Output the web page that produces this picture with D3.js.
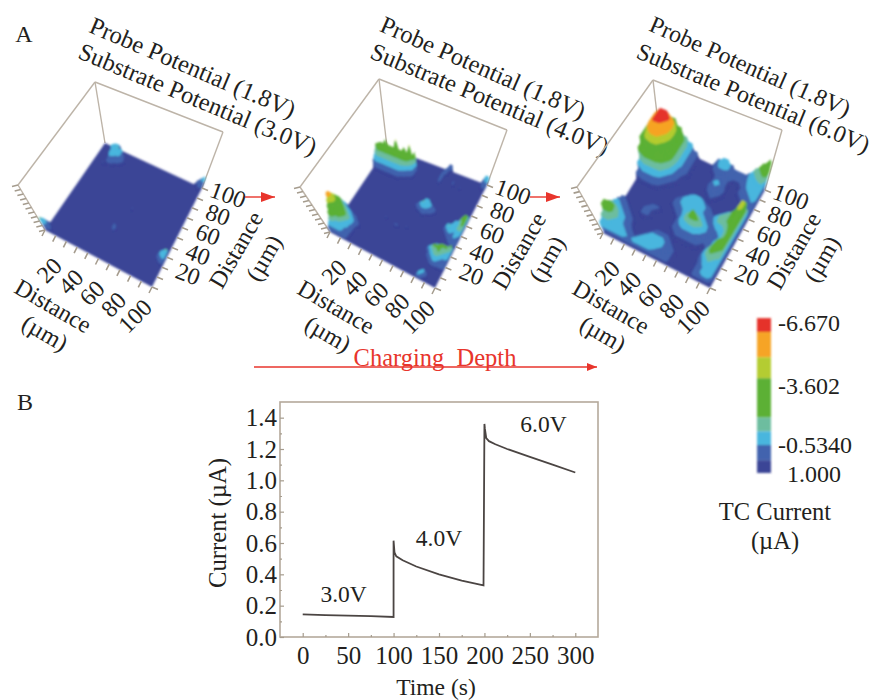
<!DOCTYPE html>
<html>
<head>
<meta charset="utf-8">
<script src="https://cdn.jsdelivr.net/npm/d3@7"></script>
<style>
  body { margin: 0; background: #fff; }
  text { font-family: "Liberation Serif", serif; fill: #231f20; }
</style>
</head>
<body>
<svg id="chart" width="875" height="700"></svg>
<script>
// Lower chart: current against time
const timeValues = [0, 25, 50, 75, 100, 100, 101, 103, 110, 125, 150, 175, 199, 200, 200.5, 202, 205, 212, 225, 250, 275, 300];
const currentValues = [0.145, 0.14, 0.136, 0.133, 0.128, 0.615, 0.54, 0.515, 0.49, 0.45, 0.4, 0.36, 0.33, 1.36, 1.33, 1.27, 1.25, 1.23, 1.2, 1.15, 1.1, 1.05];
const timeTicks = [0, 50, 100, 150, 200, 250, 300];
const timeMinorTicks = [25, 75, 125, 175, 225, 275];
const currentTicks = [0, 0.2, 0.4, 0.6, 0.8, 1.0, 1.2, 1.4];
const currentMinorTicks = [0.1, 0.3, 0.5, 0.7, 0.9, 1.1, 1.3];
const stepLabels = [["3.0V", 0], ["4.0V", 1], ["6.0V", 2]];

// Colour bar
const bandEdges = [-6.91, -6.23, -5.0, -3.98, -1.96, -1.24, -0.534, 0.3, 1.0];
const bandColors = ["#e5332a", "#f6a425", "#b4cc30", "#5bb035", "#6dbd9f", "#48b6de", "#4263ae", "#3a4496"];
const legendTicks = [-6.67, -3.602, -0.534, 1.0];
const legendLabels = ["-6.670", "-3.602", "-0.5340", "1.000"];

// Surface heights: each digit is an index into currentLevels (uA)
const currentLevels = [0.8, 0.1, -0.4, -0.9, -1.5, -2.5, -3.5, -4.5, -5.6, -6.6];

// patches are [row, column, digits], everything else stays at level 0
const surface30V = [
  [1, 6, "12"], [2, 4, "12331"], [3, 4, "133323"], [4, 4, "1233431"], [5, 5, "233331"], [6, 5, "13321"], [7, 5, "121"], [8, 4, "1"],
  [28, 20, "2"], [29, 20, "2"], [19, 22, "1"],
  [38, 0, "1"], [39, 0, "32"], [40, 0, "431"],
  [0, 38, "123"], [1, 39, "23"],
  [29, 39, "23"], [30, 38, "234"], [31, 38, "233"], [32, 39, "23"]
];

const surface40V = [
  [0, 25, "22"], [0, 39, "33"],
  [1, 24, "11"], [1, 39, "23"],
  [2, 24, "11"], [2, 39, "12"],
  [3, 0, "001111111111100"], [3, 24, "2"],
  [4, 0, "133333333333321"], [4, 24, "2"], [4, 29, "1"],
  [5, 0, "455655575565756"], [5, 24, "2"], [5, 29, "1"], [5, 32, "1"],
  [6, 0, "555555555555554"], [6, 24, "1"],
  [7, 0, "455555555555543"], [8, 0, "344444444444321"], [9, 0, "233333333332100"], [10, 0, "011111111110000"],
  [15, 23, "13310"], [15, 38, "123"],
  [16, 22, "1233321"], [16, 38, "134"],
  [17, 21, "12343321"], [17, 37, "1245"],
  [18, 22, "123321"], [18, 36, "13356"],
  [19, 24, "11"], [19, 35, "123345"],
  [20, 34, "1333345"], [21, 34, "1343344"], [22, 35, "133233"], [23, 36, "12232"],
  [24, 37, "1221"], [25, 38, "111"], [26, 14, "1"], [26, 22, "1"],
  [27, 35, "111223"], [27, 18, "11"],
  [28, 33, "12334445"],
  [29, 0, "32"], [29, 32, "123445554"],
  [30, 0, "5321"], [30, 32, "134555443"],
  [31, 0, "654321"], [31, 33, "13445433"],
  [32, 0, "7654321"], [32, 33, "12344322"],
  [33, 0, "87654321"], [33, 34, "1233211"],
  [34, 0, "87665431"], [34, 35, "122111"],
  [35, 0, "7665543"], [36, 0, "6555432"], [37, 0, "5544332"],
  [38, 0, "4433321"], [38, 34, "131"],
  [39, 0, "3333321"], [39, 33, "1331"],
  [40, 0, "2222211"], [40, 33, "131"]
];

const surface60V = [
  [0, 0, "566654310002332112456"],
  [1, 0, "677765310001332112345"],
  [2, 0, "689985310000111001333"],
  [3, 0, "689995310000121001233"],
  [4, 0, "689985310000232000123"],
  [5, 0, "678865200000121000012"],
  [6, 0, "566654100000010000012"],
  [7, 0, "344441000011100000124"],
  [8, 0, "122210000123321002346"],
  [9, 0, "000000001233332123457"],
  [10, 0, "000000001233332134457"],
  [11, 0, "000000000123333224456"],
  [12, 0, "000001100013454322346"],
  [13, 0, "100011000013455421245"],
  [14, 0, "210011000012333211345"],
  [15, 0, "321000000001111101355"],
  [16, 0, "432100001110000002455"],
  [17, 0, "553200012221000002454"],
  [18, 0, "554210123332100001343"],
  [19, 0, "443321233332100001233"],
  [20, 0, "333332333321100001233"]
];

// Layout of the three surface plots, in screen pixels
const panels = [
  {
    grid: surface30V, size: 40, lowest: -8, titleSize: 24.5,
    floor: { back: [105, 143], left: [45, 230], right: [202, 188], front: [152, 287] },
    top: { back: [95, 82], left: [18, 185], right: [223, 132] },
    titles: [["Probe Potential (1.8V)", 91, 24, 23], ["Substrate Potential (3.0V)", 80, 50, 22.5]],
    arrow: [245, 275]
  },
  {
    grid: surface40V, size: 40, lowest: -11.5, titleSize: 24.5,
    floor: { back: [387, 147], left: [330, 232], right: [487, 185], front: [435, 288] },
    top: { back: [379, 79], left: [300, 187], right: [507, 130] },
    titles: [["Probe Potential (1.8V)", 382, 23, 23.7], ["Substrate Potential (4.0V)", 372, 50, 22.5]],
    arrow: [530, 560]
  },
  {
    grid: surface60V, size: 20, lowest: -8, titleSize: 24,
    floor: { back: [660, 140], left: [603, 233], right: [765, 190], front: [710, 288] },
    top: { back: [653, 80], left: [577, 187], right: [782, 130] },
    titles: [["Probe Potential (1.8V)", 651, 23, 23.7], ["Substrate Potential (6.0V)", 638, 50, 22.6]]
  }
];

const distanceTicks = [20, 40, 60, 80, 100];
const distanceMinorTicks = [0, 10, 20, 30, 40, 50, 60, 70, 80, 90, 100];
const heightTicks = [0, 0.1, 0.2, 0.3, 0.4, 0.5, 0.6, 0.7, 0.8, 0.9, 1];

const svg = d3.select("#chart");

const defs = svg.append("defs");
defs.append("filter").attr("id", "soft")
  .attr("x", "-5%").attr("y", "-5%").attr("width", "110%").attr("height", "110%")
  .append("feGaussianBlur").attr("stdDeviation", 0.8);
defs.append("filter").attr("id", "softBar")
  .attr("x", "-30%").attr("y", "-5%").attr("width", "160%").attr("height", "110%")
  .append("feGaussianBlur").attr("stdDeviation", 0.8);
defs.append("marker").attr("id", "head").attr("viewBox", "0 0 10 8")
  .attr("refX", 10).attr("refY", 4).attr("markerWidth", 10).attr("markerHeight", 8)
  .attr("markerUnits", "userSpaceOnUse").attr("orient", "auto")
  .append("path").attr("d", "M0,0L10,4L0,8Z").attr("fill", "#e8352c");

function label(str, x, y, size, angle, anchor) {
  return svg.append("text")
    .attr("transform", `translate(${x},${y}) rotate(${angle || 0})`)
    .attr("text-anchor", anchor || "middle")
    .attr("dominant-baseline", "central")
    .attr("font-size", size)
    .style("white-space", "pre")
    .text(str);
}

label("A", 24, 34, 24);
label("B", 25, 402, 24);

// Surface plots
const colorOf = d3.scaleThreshold().domain(bandEdges.slice(1, -1)).range(bandColors);

function makeProjection(p) {
  const fx = d3.scaleLinear().domain([0, 100]).range([0, 1]);
  const fy = d3.scaleLinear().domain([0, 100]).range([0, 1]);
  const lift = {
    back: [p.top.back[0] - p.floor.back[0], p.top.back[1] - p.floor.back[1]],
    left: [p.top.left[0] - p.floor.left[0], p.top.left[1] - p.floor.left[1]],
    right: [p.top.right[0] - p.floor.right[0], p.top.right[1] - p.floor.right[1]]
  };
  lift.front = [lift.left[0] + lift.right[0] - lift.back[0], lift.left[1] + lift.right[1] - lift.back[1]];
  // x runs left -> front, y runs front -> right, h is a fraction of the wall
  const blend = (a, b, c, d, s, t) => (1 - s) * (1 - t) * a + s * (1 - t) * b + s * t * c + (1 - s) * t * d;
  return (x, y, h) => {
    const s = fx(x), t = fy(y);
    const at = (k) =>
      blend(p.floor.left[k], p.floor.front[k], p.floor.right[k], p.floor.back[k], s, t) +
      h * blend(lift.left[k], lift.front[k], lift.right[k], lift.back[k], s, t);
    return [at(0), at(1)];
  };
}

function buildGrid(patches, size) {
  const n = size + 1;
  const values = new Array(n * n).fill(-currentLevels[0]);
  patches.forEach(([row, col, digits]) => {
    digits.split("").forEach((d, i) => {
      if (col + i < n) values[row * n + col + i] = -currentLevels[+d];
    });
  });
  return values;
}

const contourSteps = d3.range(-0.75, 6.7, 0.12);
const wallColor = "#bdb4a8";
const tickColor = "#a59c8e";

panels.forEach((p) => {
  const project = makeProjection(p);
  const heightOf = d3.scaleLinear().domain([1, p.lowest]).range([0, 1]);
  const g = svg.append("g");

  // walls
  const walls = [
    [[0, 100, 0], [0, 100, 1]],
    [[0, 100, 1], [0, 0, 1]],
    [[0, 100, 1], [100, 100, 1]],
    [[0, 0, 0], [0, 0, 1]],
    [[100, 100, 0], [100, 100, 1]]
  ];
  g.selectAll("line.wall").data(walls).join("line").attr("class", "wall")
    .attr("x1", (d) => project(...d[0])[0]).attr("y1", (d) => project(...d[0])[1])
    .attr("x2", (d) => project(...d[1])[0]).attr("y2", (d) => project(...d[1])[1])
    .attr("stroke", wallColor).attr("stroke-width", 1.4);

  // floor, then contour layers from low to high
  const surface = g.append("g").attr("filter", "url(#soft)");
  const corners = [[0, 0], [100, 0], [100, 100], [0, 100]].map((c) => project(c[0], c[1], 0));
  surface.append("path").attr("d", "M" + corners.join("L") + "Z").attr("fill", bandColors[7]);

  const n = p.size + 1;
  const colX = d3.scaleLinear().domain([0, n]).range([0, 100]);
  const rowY = d3.scaleLinear().domain([0, n]).range([100, 0]);
  const layers = d3.contours().size([n, n]).thresholds(contourSteps)(buildGrid(p.grid, p.size));
  layers.forEach((layer) => {
    const current = -layer.value;
    const h = heightOf(current);
    const d = layer.coordinates.map((poly) =>
      poly.map((ring) => "M" + ring.map((c) => project(colX(c[0]), rowY(c[1]), h)).join("L") + "Z").join("")
    ).join("");
    if (d) surface.append("path").attr("d", d).attr("fill", colorOf(current)).attr("fill-rule", "evenodd");
  });

  // tick hatching on the two floor edges and the left wall edge
  const hatch = [
    ...distanceMinorTicks.map((v) => [project(v, 0, 0), [-3, 6]]),
    ...distanceMinorTicks.map((v) => [project(100, v, 0), [6, 2.5]]),
    ...heightTicks.map((v) => [project(0, 0, v), [-6, 1.5]])
  ];
  g.selectAll("line.hatch").data(hatch).join("line").attr("class", "hatch")
    .attr("x1", (d) => d[0][0]).attr("y1", (d) => d[0][1])
    .attr("x2", (d) => d[0][0] + d[1][0]).attr("y2", (d) => d[0][1] + d[1][1])
    .attr("stroke", tickColor).attr("stroke-width", 1.6);

  // tick labels
  distanceTicks.forEach((v) => {
    const a = project(v, 0, 0);
    label(String(v), a[0] - 17, a[1] + 29, 24, -45);
    const b = project(100, v, 0);
    label(String(v), b[0] + 26, b[1] + 7, 24, 20);
  });

  // axis titles sit at a fixed distance from the front corner
  const f = p.floor.front;
  label("Distance", f[0] - 99, f[1] + 19, 24, 30);
  label("(\u00b5m)", f[0] - 107, f[1] + 46, 24, 30);
  label("Distance", f[0] + 84, f[1] - 37, 24, -60);
  label("(\u00b5m)", f[0] + 112, f[1] - 29, 24, -60);

  p.titles.forEach((t) => label(t[0], t[1], t[2], p.titleSize, t[3], "start"));

  if (p.arrow) {
    svg.append("line")
      .attr("x1", p.arrow[0]).attr("x2", p.arrow[1]).attr("y1", 197).attr("y2", 197)
      .attr("stroke", "#e8352c").attr("stroke-width", 1.4);
    svg.append("path")
      .attr("d", `M${p.arrow[1] - 14},192L${p.arrow[1]},197L${p.arrow[1] - 14},202Z`)
      .attr("fill", "#e8352c");
  }
});

// Charging depth arrow
svg.append("line")
  .attr("x1", 254).attr("x2", 597).attr("y1", 367).attr("y2", 367)
  .attr("stroke", "#e8352c").attr("stroke-width", 1.3)
  .attr("marker-end", "url(#head)");
label("Charging  Depth", 435, 357, 24.5).style("fill", "#e8352c");

// Colour bar
const legendY = d3.scaleLinear()
  .domain([1.0, -0.534, -3.602, -6.67])
  .range([473, 445, 386, 323]);
const legendG = svg.append("g").attr("filter", "url(#softBar)");
legendG.selectAll("rect").data(bandColors).join("rect")
  .attr("x", 757).attr("width", 14)
  .attr("y", (d, i) => legendY(bandEdges[i]))
  .attr("height", (d, i) => legendY(bandEdges[i + 1]) - legendY(bandEdges[i]))
  .attr("fill", (d) => d);
legendTicks.forEach((v, i) => {
  const x = v > 0 ? 787 : 778;
  label(legendLabels[i], x, legendY(v) + (v > 0 ? 1 : 0), 24, 0, "start");
});
label("TC Current", 775, 511, 24.5);
label("(\u00b5A)", 775, 540, 24.5);

// Current vs time
const x = d3.scaleLinear().domain([-25, 325]).range([280, 598]);
const y = d3.scaleLinear().domain([0, 1.5]).range([637, 402]);

svg.append("rect")
  .attr("x", 280).attr("y", 402).attr("width", 318).attr("height", 235)
  .attr("fill", "none").attr("stroke", "#b5a99b").attr("stroke-width", 1.6);

function tickStyle(sel) {
  sel.select(".domain").remove();
  sel.selectAll("line").attr("stroke", tickColor).attr("stroke-width", 1.2);
  sel.selectAll("text").attr("font-size", 25).style("fill", "#231f20");
  sel.attr("font-family", null);
}

svg.append("g").attr("transform", "translate(0,637)")
  .call(d3.axisBottom(x).tickValues(timeTicks).tickSize(-4).tickPadding(9).tickFormat(d3.format("d")))
  .call(tickStyle);
svg.append("g").attr("transform", "translate(0,637)")
  .call(d3.axisBottom(x).tickValues(timeMinorTicks).tickSize(-2).tickFormat(""))
  .call(tickStyle);
svg.append("g").attr("transform", "translate(280,0)")
  .call(d3.axisLeft(y).tickValues(currentTicks).tickSize(-4).tickPadding(3).tickFormat(d3.format(".1f")))
  .call(tickStyle);
svg.append("g").attr("transform", "translate(280,0)")
  .call(d3.axisLeft(y).tickValues(currentMinorTicks).tickSize(-2).tickFormat(""))
  .call(tickStyle);

const line = d3.line().x((d) => x(d[0])).y((d) => y(d[1]));
svg.append("path")
  .datum(timeValues.map((t, i) => [t, currentValues[i]]))
  .attr("d", line)
  .attr("fill", "none").attr("stroke", "#4b4543").attr("stroke-width", 1.8);

const stepSpots = [[45, 0.275], [150, 0.635], [265, 1.36]];
stepLabels.forEach(([s, i]) => label(s, x(stepSpots[i][0]), y(stepSpots[i][1]), 23.5));

label("Current (\u00b5A)", 217, 523, 24.7, -90);
label("Time (s)", 436, 687, 23.6);
</script>
</body>
</html>
